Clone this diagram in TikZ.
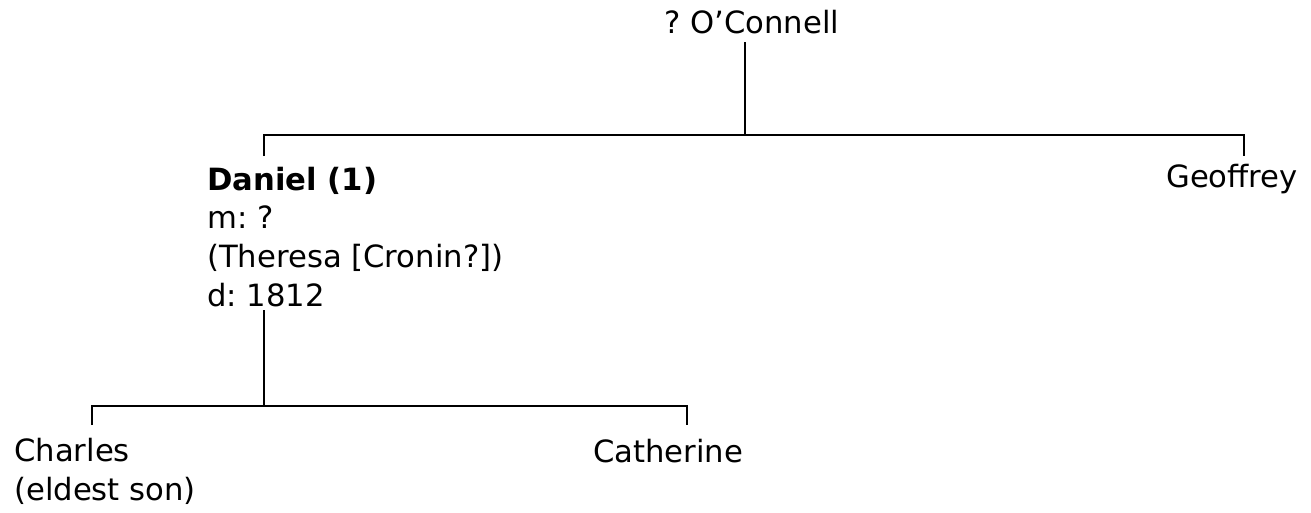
\documentclass[tikz,border=0pt]{standalone}
\usepackage{fontspec}
\setmainfont{DejaVu Sans}
\usepackage{xcolor}

\begin{document}
\begin{tikzpicture}[x=0.75pt,y=-0.75pt,
    person/.style={inner sep=0pt, align=left, font=\fontsize{23}{29}\selectfont\frenchspacing},
    line/.style={line width=1.4pt}]
    \useasboundingbox (0,0) rectangle (1311,512);

    \node[person, anchor=base west] (OC) at (664,33) {? O’Connell};
    \node[person, anchor=base west] (DA) at (207,306) {\textbf{Daniel (1)}\\m: ?\\(Theresa [Cronin?])\\d: 1812};
    \node[person, anchor=base east] (GE) at (1298,187) {Geoffrey};
    \node[person, anchor=base west] (CH) at (14,500) {Charles\\(eldest son)};
    \node[person, anchor=base] (CA) at (668,462) {Catherine};

    \coordinate (OCb) at (745,42);
    \coordinate (bar1) at (745,135);
    \coordinate (bar1l) at (264,135);
    \coordinate (bar1r) at (1244,135);
    \coordinate (DAt) at (264,156);
    \coordinate (GEt) at (1244,156);
    \coordinate (DAb) at (264,310);
    \coordinate (bar2) at (264,406);
    \coordinate (bar2l) at (92,406);
    \coordinate (bar2r) at (687,406);
    \coordinate (CHt) at (92,425);
    \coordinate (CAt) at (687,425);

    \draw[line] (OCb) -- (bar1);
    \draw[line] (DAt) -- (bar1l) -- (bar1r) -- (GEt);
    \draw[line] (DAb) -- (bar2);
    \draw[line] (CHt) -- (bar2l) -- (bar2r) -- (CAt);
\end{tikzpicture}
\end{document}
